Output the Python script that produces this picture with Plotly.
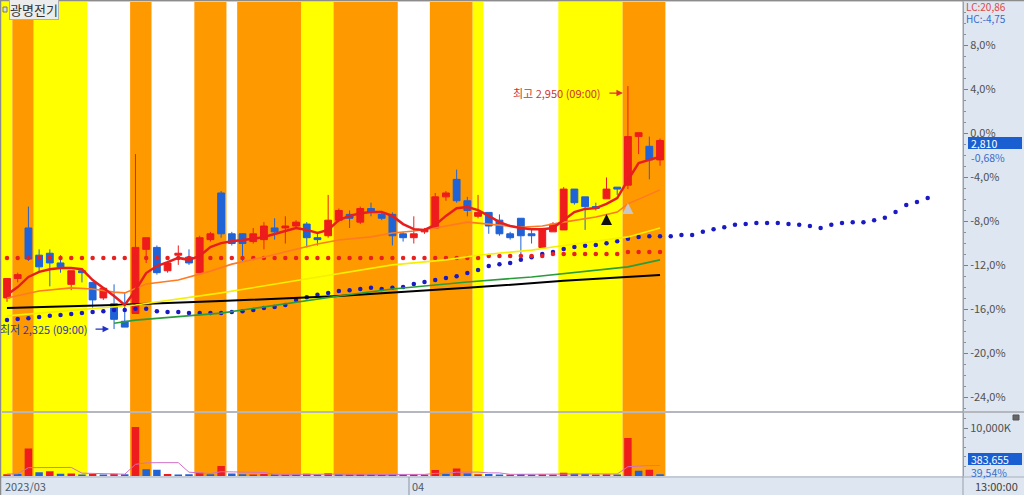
import plotly.graph_objects as go

# ---------------- data ----------------
BASE_PRICE = 2829.2   # price shown as 0.0 %

OPEN = [2405, 2455, 2585, 2515, 2520, 2495, 2440, 2475, 2445, 2405,
        2390, 2345, 2365, 2530, 2535, 2475, 2515, 2510, 2470, 2555,
        2675, 2570, 2570, 2550, 2555, 2585, 2585, 2590, 2595, 2560,
        2565, 2605, 2620, 2600, 2635, 2620, 2620, 2570, 2560, 2575,
        2585, 2665, 2710, 2655, 2615, 2625, 2605, 2570, 2610, 2570,
        2535, 2575, 2580, 2685, 2665, 2640, 2660, 2690, 2695, 2820,
        2795, 2760]
HIGH = [2455, 2470, 2640, 2530, 2530, 2515, 2475, 2475, 2445, 2430,
        2440, 2420, 2775, 2560, 2540, 2500, 2540, 2530, 2565, 2575,
        2680, 2575, 2570, 2585, 2600, 2610, 2615, 2605, 2600, 2570,
        2670, 2635, 2630, 2640, 2650, 2625, 2625, 2575, 2615, 2585,
        2675, 2680, 2735, 2665, 2670, 2625, 2620, 2575, 2610, 2585,
        2580, 2600, 2690, 2685, 2665, 2650, 2715, 2690, 2950, 2830,
        2820, 2815]
LOW = [2395, 2445, 2500, 2470, 2435, 2470, 2425, 2445, 2380, 2400,
       2325, 2330, 2365, 2495, 2465, 2470, 2490, 2490, 2470, 2550,
       2560, 2540, 2500, 2545, 2530, 2555, 2545, 2585, 2535, 2540,
       2560, 2600, 2585, 2595, 2615, 2605, 2540, 2550, 2545, 2570,
       2585, 2655, 2650, 2615, 2610, 2570, 2565, 2555, 2515, 2545,
       2535, 2575, 2580, 2645, 2580, 2630, 2660, 2670, 2685, 2775,
       2710, 2745]
CLOSE = [2455, 2465, 2505, 2485, 2495, 2485, 2475, 2470, 2400, 2430,
         2350, 2330, 2535, 2560, 2470, 2495, 2520, 2495, 2560, 2570,
         2570, 2545, 2545, 2570, 2590, 2575, 2590, 2600, 2560, 2555,
         2605, 2630, 2610, 2635, 2625, 2610, 2565, 2560, 2570, 2580,
         2665, 2675, 2655, 2630, 2625, 2590, 2570, 2560, 2565, 2565,
         2580, 2595, 2685, 2650, 2640, 2635, 2685, 2685, 2820, 2830,
         2760, 2810]

# short moving average (thick red)
MA_RED = [2413, 2433, 2459, 2472, 2479, 2482, 2482, 2479, 2451, 2431,
          2410, 2387, 2425, 2469, 2487, 2497, 2508, 2503, 2513, 2536,
          2546, 2551, 2554, 2557, 2562, 2569, 2577, 2585, 2580, 2572,
          2580, 2605, 2616, 2623, 2626, 2626, 2616, 2595, 2582, 2580,
          2593, 2616, 2636, 2639, 2631, 2616, 2600, 2590, 2585, 2582,
          2582, 2585, 2605, 2626, 2634, 2636, 2647, 2662, 2708, 2752,
          2760, 2768]
# other averages read at sample candles
MA_ORANGE_IDX = [0, 3, 6, 8, 10, 11, 13, 16, 19, 21, 24, 27, 29, 31, 34, 36, 38,
                 40, 43, 45, 48, 50, 52, 55, 57, 58, 61]
MA_ORANGE = [2405, 2423, 2431, 2428, 2420, 2418, 2441, 2451, 2474, 2492, 2510,
             2531, 2544, 2554, 2562, 2572, 2577, 2585, 2600, 2595, 2587, 2590,
             2600, 2613, 2626, 2647, 2683]
MA_YELLOW_IDX = [0, 12, 20, 31, 36, 41, 44, 49, 51, 58, 61]
MA_YELLOW = [2359, 2387, 2418, 2467, 2490, 2503, 2515, 2528, 2536, 2562, 2585]
MA_GREEN_IDX = [10, 12, 20, 31, 36, 43, 49, 55, 58, 61]
MA_GREEN = [2340, 2348, 2366, 2410, 2428, 2446, 2459, 2477, 2485, 2503]
MA_BLACK_IDX = [0, 10, 20, 31, 43, 52, 61]
MA_BLACK = [2379, 2387, 2397, 2410, 2431, 2449, 2464]

# dotted spans
SPAN_RED = [2508, 2508, 2508, 2508, 2508, 2508, 2508, 2508, 2508, 2508,
            2508, 2508, 2508, 2508, 2508, 2508, 2508, 2508, 2508, 2508,
            2508, 2508, 2508, 2508, 2508, 2508, 2508, 2508, 2508, 2508,
            2508, 2508, 2508, 2508, 2508, 2508, 2508, 2508, 2508, 2508,
            2508, 2508, 2508, 2508, 2508, 2513, 2513, 2513, 2513, 2513,
            2513, 2518, 2518, 2518, 2518, 2518, 2518, 2518, 2523, 2523,
            2523, 2523]
SPAN_BLUE = [2348, 2351, 2353, 2356, 2359, 2361, 2364, 2366, 2369, 2371,
             2374, 2374, 2377, 2377, 2371, 2369, 2369, 2366, 2366, 2366,
             2366, 2369, 2371, 2374, 2379, 2382, 2387, 2400, 2407, 2413,
             2418, 2423, 2425, 2428, 2431, 2428, 2431, 2433, 2441, 2446,
             2451, 2456, 2461, 2469, 2477, 2487, 2492, 2495, 2503, 2510,
             2518, 2523, 2531, 2536, 2539, 2541, 2546, 2551, 2557, 2562,
             2564, 2564, 2564, 2567, 2567, 2575, 2582, 2587, 2593, 2595,
             2598, 2598, 2598, 2595, 2593, 2590, 2585, 2593, 2598, 2600,
             2600, 2605, 2611, 2626, 2644, 2652, 2662]

# volume (thousand shares)
VOLUME = [350, 420, 5800, 800, 1000, 450, 500, 300, 400, 300,
          450, 350, 10300, 1400, 1300, 400, 300, 350, 700, 350,
          2100, 500, 350, 300, 400, 300, 300, 250, 450, 300,
          600, 350, 300, 350, 300, 250, 400, 300, 350, 300,
          1250, 400, 1600, 500, 350, 400, 300, 250, 400, 250,
          350, 300, 700, 450, 400, 300, 350, 300, 8000, 1100,
          1300, 384]
VOL_UP = [1, 0, 1, 0, 1, 0, 1, 0, 1, 0, 1, 0, 1, 0, 0, 1, 0, 0, 1, 0,
          1, 0, 0, 1, 1, 0, 1, 0, 1, 0, 1, 0, 1, 1, 0, 1, 0, 0, 1, 1,
          1, 0, 1, 0, 1, 0, 0, 1, 0, 0, 1, 1, 1, 0, 0, 1, 1, 0, 1, 0,
          1, 0]
VOL_MA = [420, 450, 1750, 1800, 1850, 1800, 1800, 600, 550, 420,
          400, 380, 2450, 2750, 2800, 2800, 2800, 800, 650, 520,
          900, 850, 850, 820, 750, 380, 350, 350, 340, 350,
          400, 420, 410, 400, 370, 330, 340, 330, 330, 340,
          550, 560, 800, 820, 820, 650, 650, 350, 340, 320,
          310, 300, 400, 420, 430, 420, 440, 420, 1950, 2100,
          2200, 2200]

# background colour runs per candle (Y yellow, O orange, W white)
BAND_RUNS = [("Y", 1), ("O", 2), ("Y", 5), ("W", 4), ("O", 2), ("W", 4),
             ("O", 3), ("W", 1), ("O", 6), ("Y", 3), ("O", 6), ("W", 3),
             ("O", 4), ("Y", 1), ("W", 7), ("Y", 6), ("O", 4)]

SIGNAL_IDX = [56, 58]
SIGNAL_PRICE = [2621, 2649]
SIGNAL_COLOR = ["#111111", "#c8c8c8"]

PCT_TICKS = [8, 4, 0, -4, -8, -12, -16, -20, -24]
PCT_MINOR = list(range(-25, 12))
VOL_TICKS = [10000]
VOL_TICK_TEXT = ["10,000K"]

HIGH_LABEL = "최고 2,950 (09:00)"
LOW_LABEL = "최저 2,325 (09:00)"
NAME = "광명전기"
MONTH_LABELS = ["2023/03", "04"]
MONTH_START_IDX = [0, 38]

# ---------------- figure ----------------
W, H = 1024, 495
ML, MR, MT, MB = 2, 61, 2, 19
PW, PH = W - ML - MR, H - MT - MB
X_RANGE = [-0.467, 89.3]


def pxx(px):
    return (px - ML) / PW


def pxy(py):
    return (H - MB - py) / PH


def idx_paper(i):
    return (i - X_RANGE[0]) / (X_RANGE[1] - X_RANGE[0])


def pct_price(p):
    return BASE_PRICE * (1 + p / 100.0)


FONT = "Noto Sans CJK KR, Liberation Sans, sans-serif"
RED, BLUE = "#ee1c1c", "#1f63d6"

fig = go.Figure()

band_colors = {"Y": "#ffff00", "O": "#ff9900"}
pos = 0
for code, cnt in BAND_RUNS:
    if code in band_colors:
        fig.add_shape(type="rect", xref="x", yref="paper", x0=pos - 0.5, x1=pos + cnt - 0.5,
                      y0=0, y1=1, fillcolor=band_colors[code], line_width=0, layer="below")
    pos += cnt

idx = list(range(len(CLOSE)))

fig.add_trace(go.Scatter(x=list(range(len(SPAN_BLUE))), y=SPAN_BLUE, mode="markers",
                         marker=dict(color="#1a1ac4", size=4.5), yaxis="y"))
fig.add_trace(go.Scatter(x=idx, y=SPAN_RED, mode="markers",
                         marker=dict(color="#e82020", size=4.5), yaxis="y"))
fig.add_trace(go.Scatter(x=MA_BLACK_IDX, y=MA_BLACK, mode="lines",
                         line=dict(color="#000000", width=2), yaxis="y"))
fig.add_trace(go.Scatter(x=MA_GREEN_IDX, y=MA_GREEN, mode="lines",
                         line=dict(color="#2a9d3a", width=1.6), yaxis="y"))
fig.add_trace(go.Scatter(x=MA_YELLOW_IDX, y=MA_YELLOW, mode="lines",
                         line=dict(color="#f5f000", width=1.6), yaxis="y"))
fig.add_trace(go.Scatter(x=MA_ORANGE_IDX, y=MA_ORANGE, mode="lines",
                         line=dict(color="#ff7a22", width=1.6), yaxis="y"))
fig.add_trace(go.Candlestick(
    x=idx, open=OPEN, high=HIGH, low=LOW, close=CLOSE, yaxis="y",
    increasing=dict(line=dict(color=RED, width=1), fillcolor=RED),
    decreasing=dict(line=dict(color=BLUE, width=1), fillcolor=BLUE),
    whiskerwidth=0))
fig.add_trace(go.Scatter(x=idx, y=MA_RED, mode="lines",
                         line=dict(color="#e81e1e", width=2.5), yaxis="y"))
fig.add_trace(go.Scatter(x=SIGNAL_IDX, y=SIGNAL_PRICE, mode="markers", yaxis="y",
                         marker=dict(symbol="arrow-up", size=11, color=SIGNAL_COLOR,
                                     line=dict(width=0))))

fig.add_trace(go.Bar(x=idx, y=VOLUME, yaxis="y2", width=0.7,
                     marker=dict(color=[RED if u else BLUE for u in VOL_UP], line_width=0)))
fig.add_trace(go.Scatter(x=idx, y=VOL_MA, mode="lines", yaxis="y2",
                         line=dict(color="#d070c8", width=1)))

main_top = 1.0
main_bot = pxy(411)
vol_top = pxy(412.5)

axis_common = dict(side="right", showgrid=False, zeroline=False, showline=True,
                   linecolor="#9aa0a8", linewidth=1, ticks="outside", ticklen=4,
                   tickcolor="#7a8088", tickfont=dict(family=FONT, size=11, color="#505050"),
                   fixedrange=True, automargin=False)

fig.update_layout(
    width=W, height=H, margin=dict(l=ML, r=MR, t=MT, b=MB, pad=0),
    paper_bgcolor="#dde6f1", plot_bgcolor="#ffffff", showlegend=False,
    bargap=0.3, boxgap=0.15, boxgroupgap=0.25, hovermode=False,
    xaxis=dict(range=X_RANGE, showticklabels=False, showgrid=False, zeroline=False,
               rangeslider=dict(visible=False), anchor="y2", ticks="", showline=False,
               fixedrange=True, automargin=False),
    yaxis=dict(domain=[main_bot, main_top],
               range=[pct_price(-25.27), pct_price(11.91)],
               tickmode="array", tickvals=[pct_price(p) for p in PCT_TICKS],
               ticktext=[("%.1f%%" % p).replace(".", ",") for p in PCT_TICKS],
               minor=dict(tickmode="array", tickvals=[pct_price(p) for p in PCT_MINOR],
                          ticks="outside", ticklen=2, tickcolor="#8a9098"),
               **axis_common),
    yaxis2=dict(domain=[0, vol_top], range=[0, 10000 * 64 / 48],
                tickmode="array", tickvals=VOL_TICKS, ticktext=VOL_TICK_TEXT,
                minor=dict(tickmode="array", tickvals=[2000, 4000, 6000, 8000, 12000],
                           ticks="outside", ticklen=2, tickcolor="#8a9098"),
                **axis_common),
)

# frame lines
xr = 1 + MR / PW
fig.add_shape(type="line", xref="paper", yref="paper", x0=0, x1=xr, y0=pxy(412), y1=pxy(412),
              line=dict(color="#b4b8be", width=2))
fig.add_shape(type="line", xref="paper", yref="paper", x0=pxx(0), x1=xr, y0=pxy(477), y1=pxy(477),
              line=dict(color="#a8b0bc", width=1))
fig.add_shape(type="line", xref="paper", yref="paper", x0=1, x1=1, y0=pxy(495), y1=pxy(0),
              line=dict(color="#9aa0a8", width=1))
fig.add_shape(type="line", xref="paper", yref="paper", x0=pxx(0), x1=xr, y0=pxy(0.5), y1=pxy(0.5),
              line=dict(color="#8c8c8c", width=1.5))
fig.add_shape(type="line", xref="paper", yref="paper", x0=pxx(0.5), x1=pxx(0.5), y0=pxy(495), y1=pxy(0),
              line=dict(color="#8c8c8c", width=1.5))
# month separators in the date strip
for mi in MONTH_START_IDX[1:]:
    fig.add_shape(type="line", xref="x", yref="paper", x0=mi - 0.45, x1=mi - 0.45,
                  y0=pxy(495), y1=pxy(477), line=dict(color="#8c96a4", width=1))

# small icons
fig.add_shape(type="rect", xref="paper", yref="paper", x0=pxx(3), x1=pxx(7), y0=pxy(12), y1=pxy(7),
              line=dict(color="#777777", width=1), fillcolor="#dddddd")
fig.add_shape(type="rect", xref="paper", yref="paper", x0=pxx(1013), x1=pxx(1019), y0=pxy(420), y1=pxy(415),
              line=dict(color="#555555", width=1), fillcolor="#666666")

# badges
fig.add_shape(type="rect", xref="paper", yref="paper", x0=pxx(968), x1=pxx(1022), y0=pxy(149), y1=pxy(137),
              line_width=0, fillcolor="#1a5fd2", layer="above")
fig.add_shape(type="rect", xref="paper", yref="paper", x0=pxx(968), x1=pxx(1022), y0=pxy(465), y1=pxy(453),
              line_width=0, fillcolor="#1a5fd2", layer="above")


def txt(text, x, y, color, size=11, xanchor="left", **kw):
    fig.add_annotation(text=text, xref="paper", yref="paper", x=pxx(x), y=pxy(y),
                       xanchor=xanchor, yanchor="middle", showarrow=False,
                       font=dict(family=FONT, size=size, color=color), **kw)


txt(NAME, 9, 9, "#333333", size=13, bgcolor="#ececec", bordercolor="#b0b0b0", borderpad=0)
txt("LC:%s" % "20,86", 964, 7, "#e04848", size=10)
txt("HC:%s" % "-4,75", 964, 18.5, "#3a6ccc", size=10)
txt("{:,}".format(CLOSE[-1]), 969, 143, "#ffffff", size=10.5)
txt(("%.2f%%" % ((CLOSE[-1] / BASE_PRICE - 1) * 100)).replace(".", ","), 969, 157, "#3a6ccc", size=10.5)
txt("{:,}".format(383655), 969, 459, "#ffffff", size=10.5)
txt("39,54%", 969, 472, "#3a6ccc", size=10.5)
txt("13:00:00", 973, 486, "#404040")
for lab, mi in zip(MONTH_LABELS, MONTH_START_IDX):
    xp = max(idx_paper(mi - 0.45), pxx(2))
    fig.add_annotation(text=lab, xref="paper", yref="paper", x=xp, y=pxy(486), xanchor="left",
                       yanchor="middle", showarrow=False, xshift=1,
                       font=dict(family=FONT, size=11, color="#505a66"))

# high / low markers
hi_i = HIGH.index(max(HIGH))
lo_i = LOW.index(min(LOW))
fig.add_annotation(x=hi_i, y=max(HIGH), xref="x", yref="y", text="", showarrow=True,
                   ax=-20, ay=0, arrowhead=2, arrowsize=1, arrowwidth=1.3, arrowcolor="#e03030",
                   standoff=5, yshift=-7)
fig.add_annotation(x=hi_i, y=max(HIGH), xref="x", yref="y", text=HIGH_LABEL, showarrow=False,
                   xanchor="right", yanchor="middle", xshift=-25, yshift=-7,
                   font=dict(family=FONT, size=11, color="#d03535"))
fig.add_annotation(x=lo_i, y=min(LOW), xref="x", yref="y", text="", showarrow=True,
                   ax=-20, ay=0, arrowhead=2, arrowsize=1, arrowwidth=1.3, arrowcolor="#2030c8",
                   standoff=5)
fig.add_annotation(x=lo_i, y=min(LOW), xref="x", yref="y", text=LOW_LABEL, showarrow=False,
                   xanchor="right", yanchor="middle", xshift=-24,
                   font=dict(family=FONT, size=11, color="#2a3c9c"))

fig.write_html("out.html", config={"displayModeBar": False},
               post_script="document.body.style.margin='0';document.body.style.padding='0';"
                           "document.body.style.overflow='hidden';")
